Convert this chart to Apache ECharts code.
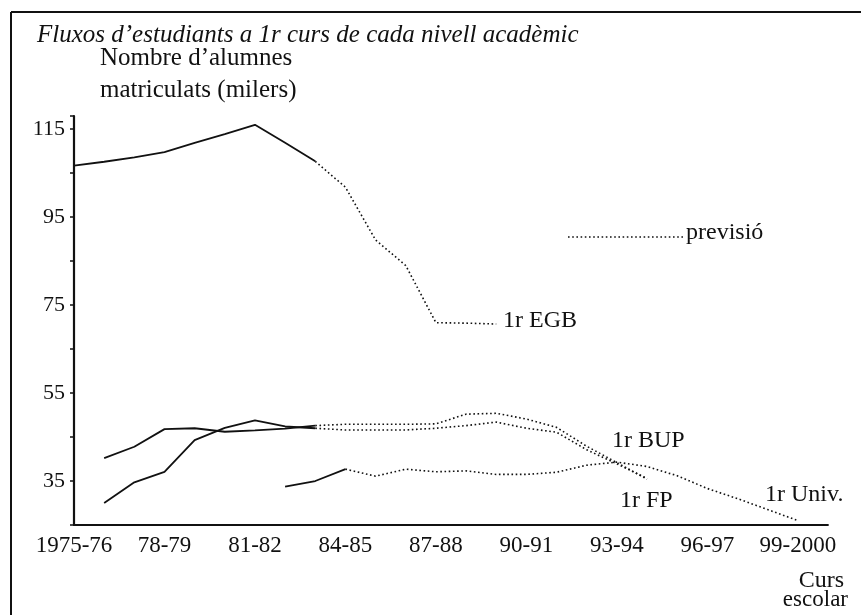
<!DOCTYPE html>
<html>
<head>
<meta charset="utf-8">
<script src="https://cdn.jsdelivr.net/npm/echarts@6/dist/echarts.min.js"></script>
<style>
  html, body { margin: 0; padding: 0; background: #fff; }
  #chart { width: 861px; height: 615px; }
</style>
</head>
<body>
<div id="chart"></div>
<script>
// cursos escolars (eix X)
const cursos = ["1975-76", "76-77", "77-78", "78-79", "79-80", "80-81", "81-82", "82-83",
  "83-84", "84-85", "85-86", "86-87", "87-88", "88-89", "89-90", "90-91", "91-92",
  "92-93", "93-94", "94-95", "95-96", "96-97", "97-98", "98-99", "99-2000"];
const yTickLabels = [35, 55, 75, 95, 115];

// milers d'alumnes; la previsió comença a l'índex indicat
const egb = [106.7, 107.6, 108.6, 109.8, 111.9, 113.9, 116, 111.9, 107.7, 101.8, 89.8, 84, 71, 70.9, 70.7,
  null, null, null, null, null, null, null, null, null, null];
const bup = [null, 40.2, 42.8, 46.8, 47, 46.2, 46.5, 46.9, 47.6, 47.9, 47.9, 47.9, 48, 50.2, 50.4,
  49.1, 47.2, 42.9, 39.2, 35.4, null, null, null, null, null];
const fp = [null, 30, 34.7, 37.1, 44.3, 47.1, 48.8, 47.4, 47.0, 46.6, 46.6, 46.6, 47, 47.6, 48.4,
  47.0, 46.1, 42.1, 38.9, 35.6, null, null, null, null, null];
const univ = [null, null, null, null, null, null, null, 33.7, 35.0, 37.7, 36.1, 37.7, 37.1, 37.3, 36.5,
  36.5, 37, 38.6, 39.3, 38.3, 36.2, 33.3, 31, 28.5, 26];
const previsioDes = { egb: 8, bup: 8, fp: 8, univ: 9 };

const serif = "Liberation Serif, Times New Roman, serif";

function part(values, from, to) {
  const out = [];
  values.forEach((v, i) => {
    if (v != null && i >= from && i <= to) out.push([i, v]);
  });
  return out;
}

function makeSeries(name, values, start) {
  return [
    {
      name: name,
      type: "line",
      data: part(values, 0, start),
      symbol: "none",
      silent: true,
      lineStyle: { color: "#111", width: 1.8 },
    },
    {
      name: name + " previsió",
      type: "line",
      data: part(values, start, values.length),
      symbol: "none",
      silent: true,
      lineStyle: { color: "#111", width: 1.6, type: [1.6, 2.6] },
    },
  ];
}

function txt(text, x, y, size, align, italic) {
  return {
    type: "text",
    style: {
      text: text,
      x: x,
      y: y,
      font: (italic ? "italic " : "") + size + "px " + serif,
      fill: "#111",
      align: align || "left",
      textAlign: align || "left",
      verticalAlign: "middle",
      textVerticalAlign: "middle",
    },
  };
}

const chart = echarts.init(document.getElementById("chart"));
chart.setOption({
  backgroundColor: "#fff",
  animation: false,
  grid: { left: 74, right: 33, top: 116, bottom: 90 },
  xAxis: {
    type: "value",
    min: 0,
    max: 25,
    interval: 3,
    splitLine: { show: false },
    axisTick: { show: false },
    axisLine: { lineStyle: { color: "#111", width: 1.8 } },
    axisLabel: {
      color: "#111",
      fontFamily: serif,
      fontSize: 23,
      margin: 9,
      formatter: (v) => (v % 3 === 0 && cursos[v] ? cursos[v] : ""),
    },
  },
  yAxis: {
    type: "value",
    min: 25,
    max: 118,
    interval: 10,
    splitLine: { show: false },
    axisLine: { show: true, lineStyle: { color: "#111", width: 2.2 } },
    axisTick: { show: true, inside: false, length: 4, lineStyle: { color: "#111", width: 1.5 } },
    axisLabel: {
      color: "#111",
      fontFamily: serif,
      fontSize: 22,
      margin: 9,
      formatter: (v) => (yTickLabels.includes(v) ? String(v) : ""),
    },
  },
  series: [
    ...makeSeries("1r EGB", egb, previsioDes.egb),
    ...makeSeries("1r BUP", bup, previsioDes.bup),
    ...makeSeries("1r FP", fp, previsioDes.fp),
    ...makeSeries("1r Univ.", univ, previsioDes.univ),
  ],
  graphic: [
    // marc
    { type: "line", shape: { x1: 11, y1: 12, x2: 861, y2: 12 }, style: { stroke: "#111", lineWidth: 2 } },
    { type: "line", shape: { x1: 11, y1: 12, x2: 11, y2: 615 }, style: { stroke: "#111", lineWidth: 2 } },
    txt("Fluxos d\u2019estudiants a 1r curs de cada nivell acadèmic", 37, 35, 25, "left", true),
    txt("Nombre d\u2019alumnes", 100, 58, 25),
    txt("matriculats (milers)", 100, 90, 25),
    txt("1r EGB", 503, 321, 24),
    { type: "line", shape: { x1: 568, y1: 237, x2: 683, y2: 237 }, style: { stroke: "#111", lineWidth: 1.6, lineDash: [1.6, 2.6] } },
    txt("previsió", 686, 233, 24),
    txt("1r BUP", 612, 441, 24),
    txt("1r FP", 620, 501, 24),
    txt("1r Univ.", 765, 495, 24),
    txt("Curs", 844, 581, 24, "right"),
    txt("escolar", 848, 600, 23, "right"),
  ],
});
</script>
</body>
</html>
